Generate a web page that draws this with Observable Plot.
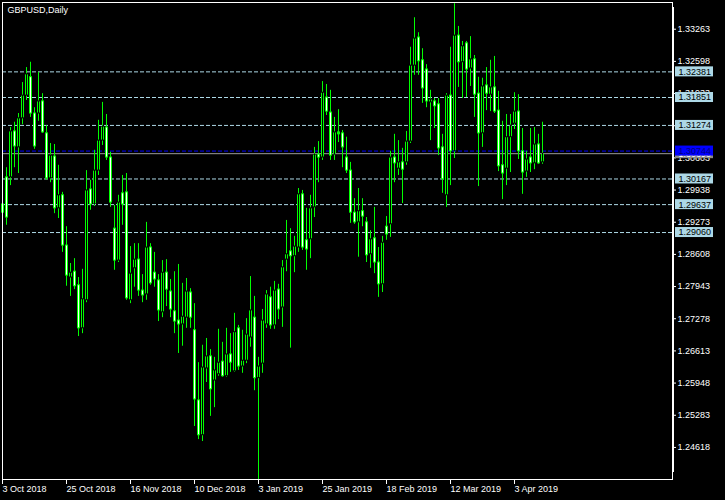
<!DOCTYPE html>
<html><head><meta charset="utf-8">
<script src="https://cdn.jsdelivr.net/npm/d3@7"></script>
<script src="https://cdn.jsdelivr.net/npm/@observablehq/plot@0.6"></script>
<style>html,body{margin:0;padding:0;background:#000;overflow:hidden;}</style>
</head><body><div id="chart"></div>
<script>
const title = "GBPUSD,Daily";
const xTickIndex = [0, 16, 32, 48, 64, 80, 96, 112, 128];
const xTickLabels = ["3 Oct 2018","25 Oct 2018","16 Nov 2018","10 Dec 2018","3 Jan 2019","25 Jan 2019","18 Feb 2019","12 Mar 2019","3 Apr 2019"];
const yTicks = [1.33263,1.32598,1.31933,1.31268,1.30603,1.29938,1.29273,1.28608,1.27943,1.27278,1.26613,1.25948,1.25283,1.24618];
const hLevels = [1.32381, 1.31851, 1.31274, 1.30167, 1.29637, 1.29060];
const blueLevel = 1.30744;

const open = [1.2945,1.3020,1.3020,1.3115,1.3082,1.3142,1.3189,1.3227,1.3152,1.3152,
1.3177,1.3111,1.3018,1.3063,1.2956,1.2983,1.2879,1.2813,1.2825,1.2797,
1.2708,1.2766,1.2995,1.2964,1.3034,1.3096,1.3123,1.3061,1.2914,1.2848,
1.2987,1.2989,1.2766,1.2832,1.2850,1.2786,1.2778,1.2875,1.2823,1.2807,
1.2741,1.2823,1.2784,1.2743,1.2724,1.2716,1.2730,1.2782,1.2704,1.2559,
1.2487,1.2625,1.2650,1.2600,1.2613,1.2639,1.2609,1.2654,1.2619,1.2708,
1.2629,1.2641,1.2689,1.2730,1.2605,1.2635,1.2716,1.2772,1.2714,1.2788,
1.2751,1.2850,1.2867,1.2857,1.2875,1.2985,1.2890,1.2892,1.2958,1.3067,
1.3061,1.3185,1.3154,1.3067,1.3113,1.3111,1.3061,1.3034,1.2947,1.2927,
1.2950,1.2927,1.2861,1.2894,1.2844,1.2799,1.2918,1.2923,1.3061,1.3038,
1.3051,1.3051,1.3094,1.3251,1.3309,1.3262,1.3243,1.3175,1.3177,1.3171,
1.3082,1.2983,1.3189,1.3074,1.3313,1.3258,1.3297,1.3245,1.3264,1.3193,
1.3111,1.3210,1.3191,1.3206,1.3158,1.3045,1.3038,1.3103,1.3131,1.3156,
1.3074,1.3032,1.3061,1.3049,1.3088,1.3051];
const high = [1.2976,1.3040,1.3123,1.3134,1.3152,1.3216,1.3247,1.3258,1.3164,1.3237,
1.3193,1.3127,1.3090,1.3088,1.3045,1.2989,1.2918,1.2842,1.2852,1.2813,
1.2830,1.3034,1.3014,1.3076,1.3138,1.3175,1.3150,1.3072,1.2962,1.2983,
1.3024,1.3028,1.2877,1.2883,1.2883,1.2819,1.2927,1.2883,1.2865,1.2819,
1.2848,1.2850,1.2809,1.2825,1.2840,1.2801,1.2811,1.2790,1.2759,1.2637,
1.2673,1.2687,1.2664,1.2648,1.2706,1.2679,1.2708,1.2697,1.2739,1.2714,
1.2704,1.2728,1.2815,1.2774,1.2648,1.2747,1.2786,1.2793,1.2805,1.2799,
1.2848,1.2931,1.2914,1.2898,1.2997,1.2993,1.2956,1.2983,1.3082,1.3094,
1.3218,1.3212,1.3200,1.3144,1.3160,1.3117,1.3103,1.3051,1.2976,1.2997,
1.2976,1.2937,1.2910,1.2958,1.2875,1.2898,1.2939,1.3074,1.3109,1.3096,
1.3080,1.3115,1.3289,1.3350,1.3319,1.3286,1.3253,1.3200,1.3183,1.3183,
1.3109,1.3193,1.3289,1.3379,1.3332,1.3301,1.3301,1.3311,1.3272,1.3227,
1.3225,1.3247,1.3262,1.3270,1.3198,1.3136,1.3150,1.3150,1.3195,1.3191,
1.3121,1.3074,1.3121,1.3123,1.3109,1.3134];
const low = [1.2935,1.2921,1.3003,1.3040,1.3028,1.3129,1.3179,1.3144,1.3078,1.3136,
1.3111,1.3014,1.3009,1.2945,1.2935,1.2865,1.2795,1.2774,1.2788,1.2691,
1.2697,1.2761,1.2952,1.2960,1.3024,1.3086,1.3055,1.2958,1.2828,1.2844,
1.2921,1.2766,1.2759,1.2793,1.2774,1.2761,1.2766,1.2797,1.2793,1.2722,
1.2730,1.2753,1.2730,1.2697,1.2656,1.2671,1.2708,1.2708,1.2505,1.2478,
1.2474,1.2596,1.2526,1.2544,1.2609,1.2607,1.2607,1.2617,1.2617,1.2621,
1.2615,1.2635,1.2669,1.2579,1.2395,1.2615,1.2708,1.2706,1.2706,1.2726,
1.2710,1.2825,1.2667,1.2823,1.2865,1.2869,1.2828,1.2852,1.2937,1.3009,
1.3055,1.3148,1.3055,1.3055,1.3092,1.3040,1.3028,1.2925,1.2923,1.2855,
1.2918,1.2844,1.2832,1.2821,1.2772,1.2782,1.2890,1.2896,1.3009,1.3024,
1.2966,1.3045,1.3090,1.3231,1.3231,1.3173,1.3164,1.3096,1.3121,1.3065,
1.2987,1.2958,1.3003,1.3059,1.3206,1.3183,1.3185,1.3208,1.3144,1.3001,
1.3082,1.3158,1.3156,1.3152,1.3032,1.2974,1.3003,1.3030,1.3119,1.3057,
1.2985,1.3020,1.3030,1.3036,1.3047,1.3047];
const close = [1.2966,1.2937,1.3115,1.3084,1.3142,1.3189,1.3233,1.3152,1.3084,1.3177,
1.3113,1.3018,1.3065,1.2956,1.2983,1.2879,1.2817,1.2823,1.2795,1.2708,
1.2768,1.2993,1.2964,1.3034,1.3096,1.3125,1.3061,1.2968,1.2848,1.2968,
1.2964,1.2770,1.2821,1.2850,1.2786,1.2776,1.2875,1.2801,1.2809,1.2745,
1.2823,1.2788,1.2747,1.2722,1.2716,1.2732,1.2784,1.2730,1.2561,1.2487,
1.2627,1.2650,1.2582,1.2621,1.2637,1.2609,1.2654,1.2637,1.2700,1.2629,
1.2641,1.2695,1.2745,1.2605,1.2629,1.2724,1.2778,1.2714,1.2786,1.2747,
1.2834,1.2861,1.2857,1.2877,1.2985,1.2875,1.2871,1.2956,1.3067,1.3061,
1.3195,1.3156,1.3065,1.3113,1.3109,1.3082,1.3034,1.2947,1.2927,1.2950,
1.2939,1.2859,1.2892,1.2844,1.2799,1.2885,1.2902,1.3061,1.3049,1.3051,
1.3036,1.3094,1.3251,1.3307,1.3260,1.3204,1.3177,1.3181,1.3167,1.3080,
1.3016,1.3189,1.3074,1.3313,1.3258,1.3291,1.3243,1.3264,1.3191,1.3111,
1.3208,1.3193,1.3206,1.3156,1.3043,1.3028,1.3103,1.3127,1.3156,1.3074,
1.3030,1.3057,1.3049,1.3088,1.3049,1.3069];

const data = open.map((o, i) => ({i, o, h: high[i], l: low[i], c: close[i]}));
const bid = close[close.length - 1];
const xMax = 167.5;
const lime = "#00ff00";
const lblue = "#add8e6";

const chart = Plot.plot({
  width: 725, height: 500,
  marginTop: 2, marginRight: 53, marginBottom: 21, marginLeft: 2,
  style: {background: "#000", color: "#fff", fontFamily: "'Liberation Sans', Arial, sans-serif", fontSize: "9px"},
  x: {domain: [0, xMax], label: null},
  y: {domain: [1.23955, 1.33815], label: null},
  marks: [
    Plot.ruleY(hLevels, {y: d => d, stroke: lblue, strokeDasharray: "4,2"}),
    Plot.ruleY([bid], {y: d => d, stroke: "#9a9a9a"}),
    Plot.ruleY([blueLevel], {y: d => d, stroke: "#0000ff", strokeDasharray: "4,2"}),
    // wick
    Plot.ruleX(data, {x: "i", y1: "l", y2: "h", stroke: lime}),
    // body: 3px green, with a 1px white (down) or black (up) core
    Plot.ruleX(data, {x: "i", y1: "o", y2: "c", stroke: lime, strokeWidth: 3, insetTop: -0.5, insetBottom: -0.5}),
    Plot.ruleX(data.filter(d => Math.abs(d.o - d.c) > 0.0005), {x: "i", y1: "o", y2: "c",
      stroke: d => d.c < d.o ? "#ffffff" : "#000000", strokeWidth: 1, insetTop: 0.5, insetBottom: 0.5}),
    Plot.frame({stroke: "#fff"}),
    Plot.ruleX([xMax], {x: d => d, stroke: "#fff", strokeWidth: 2, dx: 0.5, insetTop: 5, insetBottom: 7}),
    Plot.text([title], {frameAnchor: "top-left", dx: 5, dy: 4, textAnchor: "start", lineAnchor: "top", fill: "#fff", fontSize: 9}),
    Plot.axisY(yTicks, {anchor: "right", tickSize: 3, tickPadding: 2, tickFormat: d => d.toFixed(5), label: null}),
    Plot.axisX(xTickIndex, {anchor: "bottom", tickSize: 5, tickPadding: 1, textAnchor: "start", label: null,
      tickFormat: d => xTickLabels[xTickIndex.indexOf(d)]}),
    // bid label (gray), partly under the blue one
    Plot.rect([bid], {x1: () => xMax, x2: () => xMax, y1: d => d, y2: d => d,
      insetTop: -5, insetBottom: -5, insetLeft: 3, insetRight: -41, fill: "#8a8a8a"}),
    Plot.text([bid], {x: () => xMax, y: d => d, text: d => d.toFixed(5), dx: 6, textAnchor: "start", fill: "#fff"}),
    // level labels
    Plot.rect(hLevels, {x1: () => xMax, x2: () => xMax, y1: d => d, y2: d => d,
      insetTop: -5, insetBottom: -5, insetLeft: 3, insetRight: -41, fill: lblue}),
    Plot.text(hLevels, {x: () => xMax, y: d => d, text: d => d.toFixed(5), dx: 6, textAnchor: "start", fill: "#000"}),
    Plot.rect([blueLevel], {x1: () => xMax, x2: () => xMax, y1: d => d, y2: d => d,
      insetTop: -5, insetBottom: -5, insetLeft: 3, insetRight: -41, fill: "#0000ff"}),
    Plot.text([blueLevel], {x: () => xMax, y: d => d, text: d => d.toFixed(5), dx: 6, textAnchor: "start", fill: "#000080"})
  ]
});
document.getElementById("chart").appendChild(chart);
</script></body></html>
